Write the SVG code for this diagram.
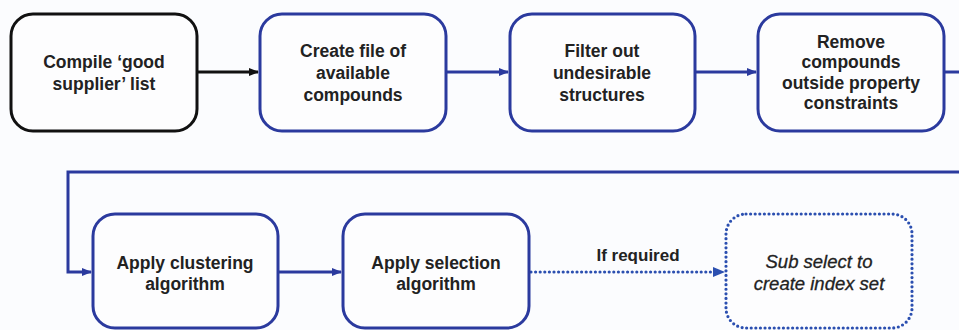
<svg xmlns="http://www.w3.org/2000/svg" width="959" height="330" viewBox="0 0 959 330">
<style>
.bg{fill:#fbfcfe}
.box{fill:#fdfdfe;stroke:#2b3a9e;stroke-width:3}
.black{stroke:#111}
.dot{fill:#fdfdfe;stroke:#2b4fb0;stroke-width:3.2;stroke-dasharray:0 4.6;stroke-linecap:round}
.t{font-family:"Liberation Sans",Arial,sans-serif;font-size:17.5px;font-weight:bold;fill:#222;text-anchor:middle}
.it{font-weight:normal;font-style:italic;font-size:18.5px;stroke:#222;stroke-width:0.3}
.lbl{font-family:"Liberation Sans",Arial,sans-serif;font-size:17px;font-weight:bold;fill:#222;text-anchor:middle}
.c{fill:none;stroke:#2b3a9e;stroke-width:3}
.cb{fill:none;stroke:#111;stroke-width:3}
.cd{fill:none;stroke:#2b4fb0;stroke-width:3.2;stroke-dasharray:0 4.6;stroke-linecap:round}
</style>
<defs>
<marker id="ab" markerWidth="10" markerHeight="10" refX="9" refY="5" orient="auto" markerUnits="userSpaceOnUse"><path d="M0,1 L10,5 L0,9 Z" fill="#2b3a9e"/></marker>
<marker id="ak" markerWidth="10" markerHeight="10" refX="9" refY="5" orient="auto" markerUnits="userSpaceOnUse"><path d="M0,1 L10,5 L0,9 Z" fill="#111"/></marker>
<marker id="ad" markerWidth="12" markerHeight="12" refX="11" refY="6" orient="auto" markerUnits="userSpaceOnUse"><path d="M0,1 L12,6 L0,11 Z" fill="#2b4fb0"/></marker>
</defs>
<rect class="bg" x="0" y="0" width="959" height="330"/>
<g id="connectors">
<line class="cb" x1="197" y1="72" x2="258" y2="72" marker-end="url(#ak)"/>
<line class="c" x1="446" y1="72" x2="508" y2="72" marker-end="url(#ab)"/>
<line class="c" x1="695" y1="72" x2="756" y2="72" marker-end="url(#ab)"/>
<line class="c" x1="945" y1="72" x2="959" y2="72"/>
<path class="c" d="M959,172 L68,172 L68,272 L91,272" marker-end="url(#ab)"/>
<line class="c" x1="279" y1="272" x2="341" y2="272" marker-end="url(#ab)"/>
<line class="cd" x1="531" y1="272" x2="714" y2="272"/>
<line x1="714" y1="272" x2="724" y2="272" stroke="none" marker-end="url(#ad)"/>
<text class="lbl" x="638" y="261">If required</text>
</g>
<g id="n1">
<rect class="box black" x="11" y="14" width="186" height="117" rx="22"/>
<text class="t" x="104" y="68">Compile ‘good</text>
<text class="t" x="104" y="90">supplier’ list</text>
</g>
<g id="n2">
<rect class="box" x="260" y="14" width="186" height="117" rx="22"/>
<text class="t" x="353" y="57">Create file of</text>
<text class="t" x="353" y="79">available</text>
<text class="t" x="353" y="101">compounds</text>
</g>
<g id="n3">
<rect class="box" x="510" y="14" width="185" height="117" rx="22"/>
<text class="t" x="602" y="57">Filter out</text>
<text class="t" x="602" y="79">undesirable</text>
<text class="t" x="602" y="101">structures</text>
</g>
<g id="n4">
<rect class="box" x="758" y="14" width="186" height="117" rx="22"/>
<text class="t" x="851" y="48">Remove</text>
<text class="t" x="851" y="68">compounds</text>
<text class="t" x="851" y="89">outside property</text>
<text class="t" x="851" y="109">constraints</text>
</g>
<g id="n5">
<rect class="box" x="93" y="214" width="185" height="114" rx="22"/>
<text class="t" x="185" y="269">Apply clustering</text>
<text class="t" x="185" y="290">algorithm</text>
</g>
<g id="n6">
<rect class="box" x="343" y="214" width="186" height="114" rx="22"/>
<text class="t" x="436" y="269">Apply selection</text>
<text class="t" x="436" y="290">algorithm</text>
</g>
<g id="n7">
<rect class="dot" x="726" y="214" width="186" height="114" rx="20"/>
<text class="t it" x="819" y="268">Sub select to</text>
<text class="t it" x="819" y="290">create index set</text>
</g>
</svg>
